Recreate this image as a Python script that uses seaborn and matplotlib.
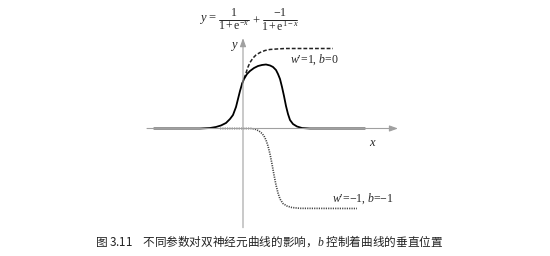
import matplotlib
matplotlib.use("Agg")
import matplotlib.pyplot as plt
import seaborn as sns
import pandas as pd
from matplotlib.lines import Line2D

# ---- data (x: units of 20 px, y: units of 80 px) ----
solid_x = [-4.45, -2.15, -1.65, -1.35, -1.1, -0.85, -0.65, -0.5, -0.35, -0.25, -0.15,
           -0.05, 0.05, 0.2, 0.35, 0.55, 0.75, 0.95, 1.15, 1.35, 1.5, 1.65, 1.75,
           1.85, 1.95, 2.05, 2.15, 2.25, 2.35, 2.5, 2.7, 2.95, 3.35, 6.1]
solid_y = [0.0, 0.0, 0.006, 0.019, 0.038, 0.069, 0.119, 0.169, 0.269, 0.369, 0.469,
           0.556, 0.619, 0.681, 0.719, 0.756, 0.781, 0.794, 0.8, 0.788, 0.769, 0.731,
           0.681, 0.619, 0.519, 0.406, 0.281, 0.181, 0.106, 0.056, 0.025, 0.006, 0.0, 0.0]
dashed_x = [-0.05, 0.05, 0.15, 0.25, 0.35, 0.5, 0.65, 0.85, 1.1, 1.35, 1.7, 2.1, 4.5]
dashed_y = [0.556, 0.619, 0.694, 0.769, 0.825, 0.881, 0.919, 0.95, 0.975, 0.988,
            0.994, 1.0, 1.0]
dotted_x = [-1.15, 0.45, 0.65, 0.8, 0.95, 1.05, 1.15, 1.25, 1.35, 1.45, 1.55, 1.65,
            1.75, 1.85, 2.0, 2.2, 2.45, 2.85, 5.7]
dotted_y = [0.0, 0.0, -0.0125, -0.031, -0.0625, -0.094, -0.144, -0.219, -0.319,
            -0.444, -0.581, -0.706, -0.806, -0.881, -0.938, -0.969, -0.988, -0.998, -1.0]

formula_lhs = r"$y\,\mathrm{=}$"
frac1_num, frac1_den = r"$\mathrm{1}$", r"$\mathrm{1+e}^{-x}$"
frac2_num, frac2_den = r"$\mathrm{-1}$", r"$\mathrm{1+e}^{\mathrm{1}-x}$"
label_pos = "$w$\u2032=1, $b$=0"
label_neg = "$w$\u2032=\u22121, $b$=\u22121"
caption = "图 3.11    不同参数对双神经元曲线的影响，$b$ 控制着曲线的垂直位置"

sns.set_style("white")
plt.rcParams["mathtext.fontset"] = "custom"
plt.rcParams["mathtext.rm"] = "Liberation Serif"
plt.rcParams["mathtext.it"] = "Liberation Serif:italic"
plt.rcParams["mathtext.bf"] = "Liberation Serif:bold"
plt.rcParams["font.family"] = ["Noto Sans CJK SC", "DejaVu Sans"]

W, H = 550, 256
fig = plt.figure(figsize=(5.5, 2.56), dpi=100)
ax = fig.add_axes([0, 0, 1, 1])
ax.set_xlim(-12.15, 15.35)
ax.set_ylim(-1.59375, 1.60625)
ax.axis("off")

axis_col = "#a0a0a0"
ax.annotate("", xy=(7.75, 0), xytext=(-4.8, 0),
            arrowprops=dict(arrowstyle="-|>,head_length=0.5,head_width=0.18",
                            color=axis_col, lw=0.8, shrinkA=0, shrinkB=0))
ax.annotate("", xy=(0, 1.13), xytext=(0, -1.24),
            arrowprops=dict(arrowstyle="-|>,head_length=0.5,head_width=0.18",
                            color=axis_col, lw=0.8, shrinkA=0, shrinkB=0))

d1 = pd.DataFrame({"x": solid_x, "y": solid_y})
d2 = pd.DataFrame({"x": dashed_x, "y": dashed_y})
d3 = pd.DataFrame({"x": dotted_x, "y": dotted_y})
sns.lineplot(data=d3, x="x", y="y", ax=ax, color="#444444", lw=1.2,
             linestyle=(0, (0.7, 0.7)), sort=False)
sns.lineplot(data=d2, x="x", y="y", ax=ax, color="#222222", lw=1.1,
             linestyle=(0, (2.5, 1.3)), sort=False)
sns.lineplot(data=d1, x="x", y="y", ax=ax, color="black", lw=1.3, sort=False)


def ftxt(px, py, s, size=8.5, **kw):
    fig.text(px / W, 1 - py / H, s, fontsize=size, ha="center", va="center", **kw)


def fbar(x0, x1, py):
    fig.add_artist(Line2D([x0 / W, x1 / W], [1 - py / H, 1 - py / H],
                         color="black", lw=0.6, transform=fig.transFigure))


# formula at the top, laid out as two stacked fractions
ftxt(208, 19.5, formula_lhs, size=9)
ftxt(233.5, 12.5, frac1_num, size=8.5)
fbar(219, 249, 19.5)
ftxt(234, 26.5, frac1_den, size=8.5)
ftxt(256, 19.5, r"$+$", size=9)
ftxt(279.5, 12.5, frac2_num, size=8.5)
fbar(263, 297, 19.5)
ftxt(280, 26.5, frac2_den, size=8.5)

serif = ["Liberation Serif", "DejaVu Serif"]
ax.text(-0.45, 1.02, r"$y$", fontsize=9, ha="center", va="center")
ax.text(6.5, -0.18, r"$x$", fontsize=9, ha="center", va="center")
ax.text(3.55, 0.86, label_pos, fontsize=8.5, ha="center", va="center", family=serif)
ax.text(6.0, -0.88, label_neg, fontsize=8.5, ha="center", va="center", family=serif)
fig.text(0.49, 0.058, caption, fontsize=8.4, ha="center", va="center", color="#222222")

fig.savefig("out.png", dpi=100)
